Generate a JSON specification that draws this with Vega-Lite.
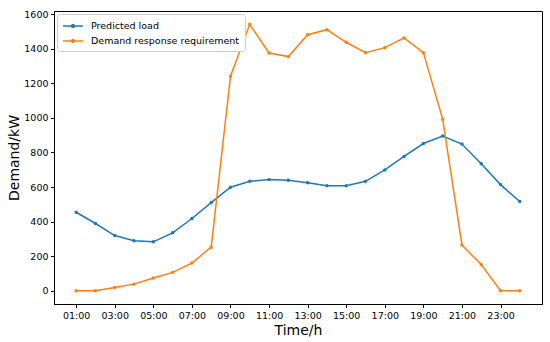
{
  "$schema": "https://vega.github.io/schema/vega-lite/v6.json",
  "width": 488,
  "height": 293,
  "autosize": "none",
  "padding": {"left": 54, "top": 11, "right": 8, "bottom": 38},
  "config": {
    "font": "DejaVu Sans",
    "view": {"stroke": "black", "strokeWidth": 1},
    "axis": {"grid": false, "domainColor": "black", "tickColor": "black", "tickSize": 3.5, "labelFontSize": 9.5, "labelColor": "black", "titleFontWeight": "normal", "titleFontSize": 14, "titleColor": "black", "labelFont": "DejaVu Sans", "titleFont": "DejaVu Sans"}
  },
  "data": {"values": [
    {"hour": 1, "series": "Predicted load", "value": 454},
    {"hour": 2, "series": "Predicted load", "value": 389},
    {"hour": 3, "series": "Predicted load", "value": 319},
    {"hour": 4, "series": "Predicted load", "value": 289},
    {"hour": 5, "series": "Predicted load", "value": 283},
    {"hour": 6, "series": "Predicted load", "value": 335},
    {"hour": 7, "series": "Predicted load", "value": 418},
    {"hour": 8, "series": "Predicted load", "value": 510},
    {"hour": 9, "series": "Predicted load", "value": 599},
    {"hour": 10, "series": "Predicted load", "value": 633},
    {"hour": 11, "series": "Predicted load", "value": 643},
    {"hour": 12, "series": "Predicted load", "value": 639},
    {"hour": 13, "series": "Predicted load", "value": 625},
    {"hour": 14, "series": "Predicted load", "value": 608},
    {"hour": 15, "series": "Predicted load", "value": 608},
    {"hour": 16, "series": "Predicted load", "value": 633},
    {"hour": 17, "series": "Predicted load", "value": 699},
    {"hour": 18, "series": "Predicted load", "value": 777},
    {"hour": 19, "series": "Predicted load", "value": 852},
    {"hour": 20, "series": "Predicted load", "value": 895},
    {"hour": 21, "series": "Predicted load", "value": 849},
    {"hour": 22, "series": "Predicted load", "value": 735},
    {"hour": 23, "series": "Predicted load", "value": 614},
    {"hour": 24, "series": "Predicted load", "value": 516},
    {"hour": 1, "series": "Demand response requirement", "value": 0},
    {"hour": 2, "series": "Demand response requirement", "value": 0},
    {"hour": 3, "series": "Demand response requirement", "value": 19},
    {"hour": 4, "series": "Demand response requirement", "value": 38},
    {"hour": 5, "series": "Demand response requirement", "value": 73},
    {"hour": 6, "series": "Demand response requirement", "value": 106},
    {"hour": 7, "series": "Demand response requirement", "value": 160},
    {"hour": 8, "series": "Demand response requirement", "value": 252},
    {"hour": 9, "series": "Demand response requirement", "value": 1242},
    {"hour": 10, "series": "Demand response requirement", "value": 1542},
    {"hour": 11, "series": "Demand response requirement", "value": 1376},
    {"hour": 12, "series": "Demand response requirement", "value": 1355},
    {"hour": 13, "series": "Demand response requirement", "value": 1482},
    {"hour": 14, "series": "Demand response requirement", "value": 1511},
    {"hour": 15, "series": "Demand response requirement", "value": 1438},
    {"hour": 16, "series": "Demand response requirement", "value": 1378},
    {"hour": 17, "series": "Demand response requirement", "value": 1407},
    {"hour": 18, "series": "Demand response requirement", "value": 1463},
    {"hour": 19, "series": "Demand response requirement", "value": 1378},
    {"hour": 20, "series": "Demand response requirement", "value": 993},
    {"hour": 21, "series": "Demand response requirement", "value": 265},
    {"hour": 22, "series": "Demand response requirement", "value": 152},
    {"hour": 23, "series": "Demand response requirement", "value": 0},
    {"hour": 24, "series": "Demand response requirement", "value": 0}
  ]},
  "mark": {"type": "line", "strokeWidth": 1.5, "point": {"size": 12, "filled": true}},
  "encoding": {
    "x": {
      "field": "hour", "type": "quantitative",
      "scale": {"domain": [-0.15, 25.15], "nice": false, "zero": false},
      "axis": {"values": [1,3,5,7,9,11,13,15,17,19,21,23], "labelExpr": "(datum.value < 10 ? '0' : '') + datum.value + ':00'", "title": "Time/h", "titleX": 244, "titleY": 30.5, "titleBaseline": "alphabetic", "labelPadding": 3}
    },
    "y": {
      "field": "value", "type": "quantitative",
      "scale": {"domain": [-77, 1619], "nice": false, "zero": false},
      "axis": {"values": [0,200,400,600,800,1000,1200,1400,1600], "format": "d", "title": "Demand/kW", "titleX": -35.5, "titleY": 146.5, "titleAngle": -90, "titleBaseline": "alphabetic", "labelPadding": 2.5}
    },
    "color": {
      "field": "series", "type": "nominal",
      "scale": {"domain": ["Predicted load", "Demand response requirement"], "range": ["#1f77b4", "#ff7f0e"]},
      "legend": {
        "title": null, "orient": "top-left", "offset": 3,
        "fillColor": "white", "strokeColor": "#cccccc", "cornerRadius": 3, "padding": 5,
        "labelFontSize": 9.5, "labelColor": "black", "labelFont": "DejaVu Sans", "labelOffset": 11,
        "symbolType": "M-1.667,0H1.667M-0.25,0a0.25,0.25 0 1,0 0.5,0a0.25,0.25 0 1,0 -0.5,0",
        "symbolSize": 144, "symbolOffset": 4, "symbolStrokeWidth": 1.5, "rowPadding": 3,
        "encode": {"symbols": {"update": {"fill": {"scale": "color", "field": "value"}}}}
      }
    }
  }
}
